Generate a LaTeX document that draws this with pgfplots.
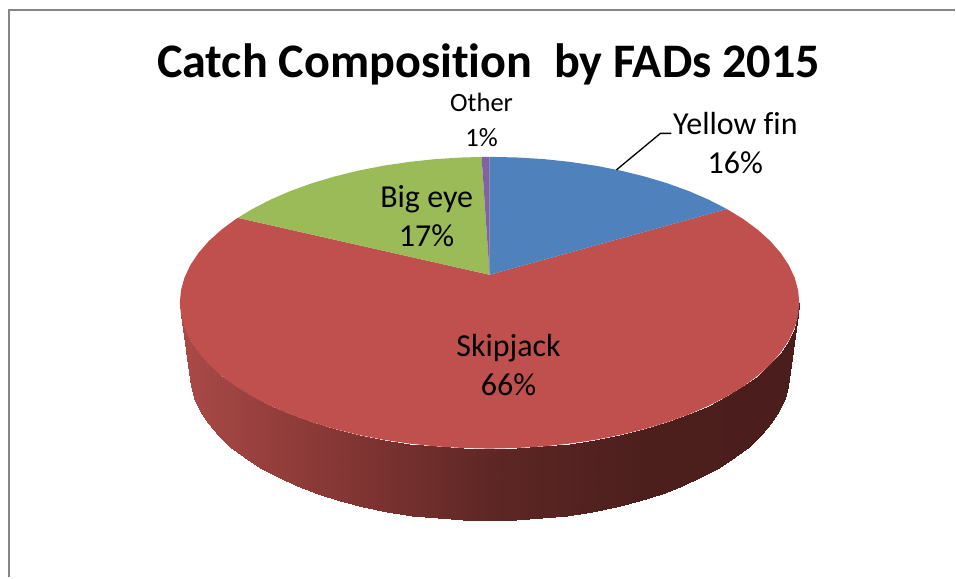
\documentclass[border=0pt]{standalone}
\usepackage{pgfplots}
\usepackage{fontspec}
\setmainfont{Carlito}[RawFeature={-liga;-clig}]
\pgfplotsset{compat=1.18}
\definecolor{pieblue}{HTML}{4F81BD}
\definecolor{piered}{HTML}{BF504D}
\definecolor{piegreen}{HTML}{9BBB59}
\definecolor{piepurple}{HTML}{8064A2}
\definecolor{framegray}{HTML}{868686}
\newcommand{\lab}[1]{\fontsize{#1}{#1}\selectfont}

\begin{document}
\begin{tikzpicture}
\begin{axis}[
    scale only axis,
    width=956pt, height=578pt,
    xmin=0, xmax=956,
    ymin=0, ymax=578,
    y dir=reverse,
    hide axis,
    clip=false,
    colormap={side}{rgb255=(170,74,71) rgb255=(134,55,53) rgb255=(94,39,37) rgb255=(76,31,29) rgb255=(75,30,29)},
    point meta min=180, point meta max=800,
]
% frame of the chart area
\addplot[framegray, line width=1.7pt] coordinates {(9,578)(9,10)(956,10)};

% side wall, top rim and bottom rim every 5 degrees
\addplot[patch, mesh input=lattice, mesh/cols=2, patch type=rectangle, shader=interp, point meta=x] table {
x y
800 303
790 373
798.8 315.7
788.9 385.9
795.3 328.3
785.4 398.7
789.4 340.8
779.8 411.3
781.3 352.9
771.9 423.6
771 364.7
761.9 435.5
758.5 376
749.8 447
744 386.7
735.8 457.9
727.5 396.8
719.8 468.1
709.2 406.2
702.1 477.7
689.3 414.8
682.8 486.4
667.8 422.6
662.1 494.2
645 429.4
640 501.2
621 435.3
616.8 507.1
596 440.2
592.6 512.1
570.2 444
567.6 516
543.8 446.8
542.1 518.8
517 448.4
516.2 520.4
490 449
490 521
463 448.4
463.8 520.4
436.2 446.8
437.9 518.8
409.8 444
412.4 516
384 440.2
387.4 512.1
359 435.3
363.2 507.1
335 429.4
340 501.2
312.2 422.6
317.9 494.2
290.7 414.8
297.2 486.4
270.8 406.2
277.9 477.7
252.5 396.8
260.2 468.1
236 386.7
244.2 457.9
221.5 376
230.2 447
209 364.7
218.1 435.5
198.7 352.9
208.1 423.6
190.6 340.8
200.2 411.3
184.7 328.3
194.6 398.7
181.2 315.7
191.1 385.9
180 303
190 373
};

% Skipjack 66%
\addplot[fill=piered, draw=none] coordinates {
(490,275)(727.5,209.2)(744,219.3)(758.5,230)(771,241.3)(781.3,253.1)(789.4,265.2)(795.3,277.7)(798.8,290.3)
(800,303)(798.8,315.7)(795.3,328.3)(789.4,340.8)(781.3,352.9)(771,364.7)(758.5,376)(744,386.7)(727.5,396.8)
(709.2,406.2)(689.3,414.8)(667.8,422.6)(645,429.4)(621,435.3)(596,440.2)(570.2,444)(543.8,446.8)(517,448.4)
(490,449)(463,448.4)(436.2,446.8)(409.8,444)(384,440.2)(359,435.3)(335,429.4)(312.2,422.6)(290.7,414.8)
(270.8,406.2)(252.5,396.8)(236,386.7)(221.5,376)(209,364.7)(198.7,352.9)(190.6,340.8)(184.7,328.3)(181.2,315.7)
(180,303)(181.2,290.3)(184.7,277.7)(190.6,265.2)(198.7,253.1)(209,241.3)(221.5,230)(236,219.3)(238,218)
} -- cycle;
% Yellow fin 16%
\addplot[fill=pieblue, draw=none] coordinates {
(490,275)(490,157)(517,157.6)(543.8,159.2)(570.2,162)(596,165.8)(621,170.7)(645,176.6)(667.8,183.4)(689.3,191.2)
(709.2,199.8)(727.5,209.2)
} -- cycle;
% Big eye 17%
\addplot[fill=piegreen, draw=none] coordinates {
(490,275)(238,218)(252.5,209.2)(270.8,199.8)(290.7,191.2)(312.2,183.4)(335,176.6)(359,170.7)(384,165.8)
(409.8,162)(436.2,159.2)(463,157.6)(482,157.1)
} -- cycle;
% Other 1%
\addplot[fill=piepurple, draw=none] coordinates {(490,275)(482,157.1)(490,157)} -- cycle;

% leader line of the Yellow fin label
\addplot[black, line width=1.3pt] coordinates {(617,170)(661,133.5)(672,133.5)};

\node[anchor=base, font=\lab{48.2}\bfseries] at (axis cs:489,78) {Catch Composition~ by FADs 2015};
\node[anchor=base, font=\lab{32}] at (axis cs:736,134.5) {Yellow fin};
\node[anchor=base, font=\lab{32}] at (axis cs:736,173.5) {16\%};
\node[anchor=base, font=\lab{32}] at (axis cs:427,207.5) {Big eye};
\node[anchor=base, font=\lab{32}] at (axis cs:427,246.5) {17\%};
\node[anchor=base, font=\lab{32}] at (axis cs:509,356.5) {Skipjack};
\node[anchor=base, font=\lab{32}] at (axis cs:509,395.5) {66\%};
\node[anchor=base, font=\lab{26.5}] at (axis cs:482,112) {Other};
\node[anchor=base, font=\lab{26.5}] at (axis cs:482,147) {1\%};
\end{axis}
% hide axis leaves the box out of the bounding box
\useasboundingbox (current axis.south west) rectangle (current axis.north east);
\end{tikzpicture}
\end{document}
